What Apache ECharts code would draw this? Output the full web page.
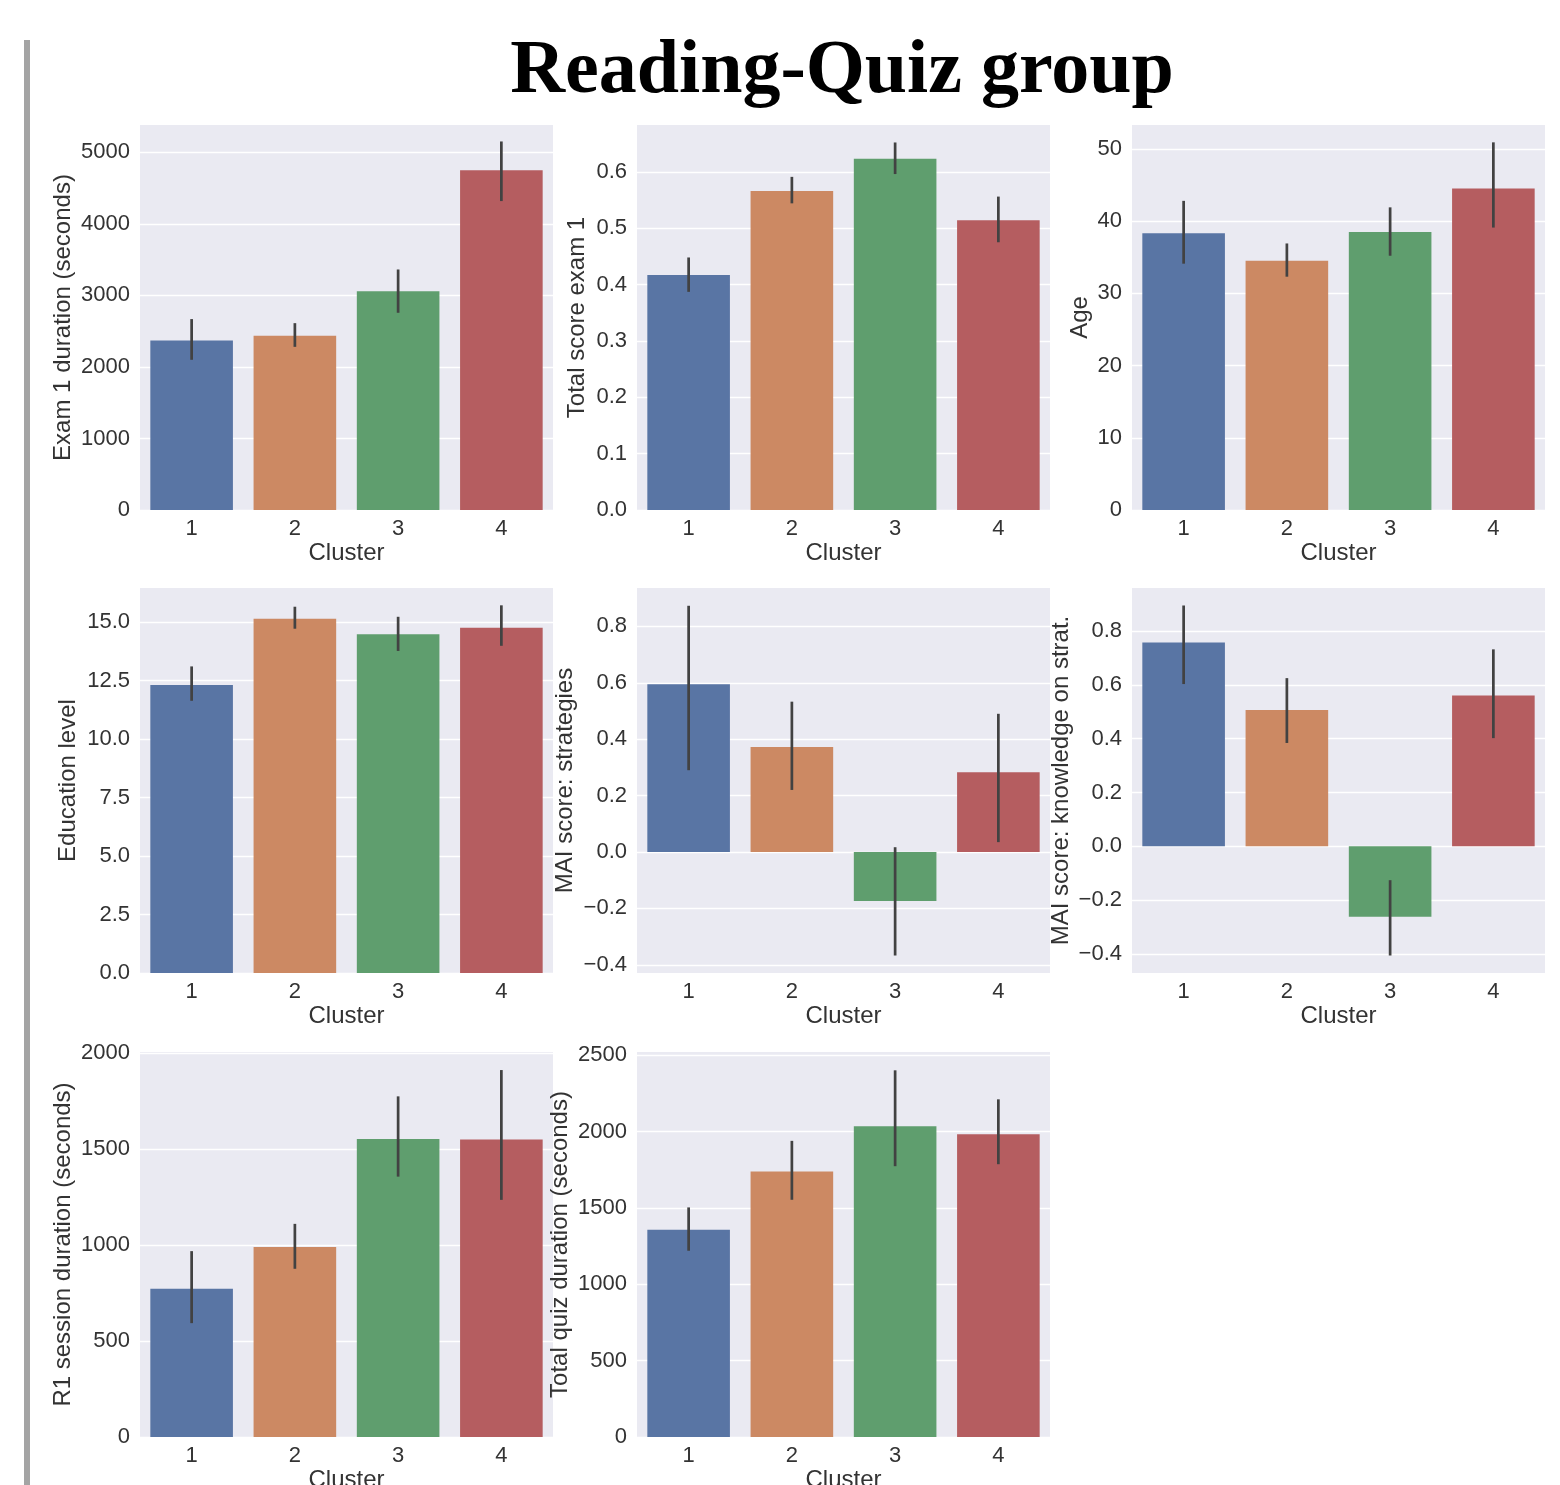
<!DOCTYPE html>
<html>
<head>
<meta charset="utf-8">
<title>Reading-Quiz group</title>
<script src="https://cdn.jsdelivr.net/npm/echarts@6/dist/echarts.min.js"></script>
<style>
  html, body { margin: 0; padding: 0; background: #ffffff; overflow: hidden; }
  #chart { width: 1560px; height: 1485px; }
</style>
</head>
<body>
<div id="chart"></div>
<script>
// Cluster categories and bar colours (one colour per cluster)
const clusters = ['1', '2', '3', '4'];
const clusterColors = ['#5975a4', '#cc8963', '#5f9e6e', '#b55d60'];

// Means and 95% CI bounds per cluster
const examDuration     = [2368, 2435, 3056, 4747];
const examDurationLow  = [2099, 2280, 2756, 4317];
const examDurationHigh = [2668, 2611, 3361, 5150];

const examScore     = [0.417, 0.566, 0.623, 0.514];
const examScoreLow  = [0.387, 0.544, 0.596, 0.475];
const examScoreHigh = [0.448, 0.591, 0.652, 0.556];

const age     = [38.3, 34.5, 38.5, 44.5];
const ageLow  = [34.1, 32.3, 35.2, 39.1];
const ageHigh = [42.8, 36.9, 41.9, 50.9];

const education     = [12.31, 15.14, 14.47, 14.75];
const educationLow  = [11.63, 14.71, 13.76, 13.98];
const educationHigh = [13.10, 15.65, 15.22, 15.71];

const maiStrategies     = [0.595, 0.372, -0.174, 0.283];
const maiStrategiesLow  = [0.290, 0.220, -0.367, 0.035];
const maiStrategiesHigh = [0.873, 0.533, 0.017, 0.490];

const maiKnowledge     = [0.757, 0.507, -0.262, 0.560];
const maiKnowledgeLow  = [0.603, 0.384, -0.406, 0.402];
const maiKnowledgeHigh = [0.895, 0.625, -0.126, 0.732];

const r1Duration     = [772, 989, 1552, 1549];
const r1DurationLow  = [593, 876, 1356, 1235];
const r1DurationHigh = [968, 1110, 1774, 1911];

const quizDuration     = [1358, 1739, 2036, 1983];
const quizDurationLow  = [1220, 1554, 1774, 1787];
const quizDurationHigh = [1504, 1940, 2402, 2212];

// Tick values for each y axis
const examDurationTicks = [0, 1000, 2000, 3000, 4000, 5000];
const examScoreTicks    = [0, 0.1, 0.2, 0.3, 0.4, 0.5, 0.6];
const ageTicks          = [0, 10, 20, 30, 40, 50];
const educationTicks    = [0, 2.5, 5, 7.5, 10, 12.5, 15];
const maiStratTicks     = [-0.4, -0.2, 0, 0.2, 0.4, 0.6, 0.8];
const maiKnowTicks      = [-0.4, -0.2, 0, 0.2, 0.4, 0.6, 0.8];
const r1Ticks           = [0, 500, 1000, 1500, 2000];
const quizTicks         = [0, 500, 1000, 1500, 2000, 2500];

const panels = [
  { name: 'Exam 1 duration (seconds)', mean: examDuration, low: examDurationLow, high: examDurationHigh, ticks: examDurationTicks, min: 0, max: 5380, dec: 0, row: 0, col: 0, gap: 65 },
  { name: 'Total score exam 1', mean: examScore, low: examScoreLow, high: examScoreHigh, ticks: examScoreTicks, min: 0, max: 0.683, dec: 1, row: 0, col: 1, gap: 48 },
  { name: 'Age', mean: age, low: ageLow, high: ageHigh, ticks: ageTicks, min: 0, max: 53.3, dec: 0, row: 0, col: 2, gap: 40 },
  { name: 'Education level', mean: education, low: educationLow, high: educationHigh, ticks: educationTicks, min: 0, max: 16.45, dec: 1, row: 1, col: 0, gap: 60 },
  { name: 'MAI score: strategies', mean: maiStrategies, low: maiStrategiesLow, high: maiStrategiesHigh, ticks: maiStratTicks, min: -0.429, max: 0.936, dec: 1, row: 1, col: 1, gap: 60 },
  { name: 'MAI score: knowledge on strat.', mean: maiKnowledge, low: maiKnowledgeLow, high: maiKnowledgeHigh, ticks: maiKnowTicks, min: -0.471, max: 0.96, dec: 1, row: 1, col: 2, gap: 59 },
  { name: 'R1 session duration (seconds)', mean: r1Duration, low: r1DurationLow, high: r1DurationHigh, ticks: r1Ticks, min: 0, max: 2005, dec: 0, row: 2, col: 0, gap: 65 },
  { name: 'Total quiz duration (seconds)', mean: quizDuration, low: quizDurationLow, high: quizDurationHigh, ticks: quizTicks, min: 0, max: 2522, dec: 0, row: 2, col: 1, gap: 65 }
];

const colLeft = [140, 637, 1132];
const rowTop = [125, 588, 1052];
const plotW = 413;
const plotH = 385;
const textColor = '#333333';
const sansFont = '"Liberation Sans", Arial, sans-serif';

function fmt(v, dec) {
  return v.toFixed(dec).replace('-', '\u2212');
}

const grids = [], xAxes = [], yAxes = [], series = [];

panels.forEach((p, i) => {
  grids.push({
    left: colLeft[p.col], top: rowTop[p.row], width: plotW, height: plotH,
    show: true, backgroundColor: '#eaeaf2', borderWidth: 0,
    containLabel: false, outerBoundsMode: 'none'
  });
  xAxes.push({
    gridIndex: i, type: 'category', data: clusters,
    axisLine: { show: false }, axisTick: { show: false },
    axisLabel: { fontSize: 22, color: textColor, fontFamily: sansFont, margin: 8 },
    name: 'Cluster', nameLocation: 'middle', nameGap: 31,
    nameTextStyle: { fontSize: 24, color: textColor, fontFamily: sansFont }
  });
  yAxes.push({
    gridIndex: i, type: 'value', min: p.min, max: p.max,
    axisLine: { show: false },
    axisTick: { show: false, customValues: p.ticks },
    axisLabel: {
      fontSize: 22, color: textColor, fontFamily: sansFont, margin: 10,
      customValues: p.ticks,
      formatter: v => fmt(v, p.dec)
    },
    splitLine: { show: true, lineStyle: { color: '#ffffff', width: 1.3 } },
    name: p.name, nameLocation: 'middle', nameGap: p.gap,
    nameTextStyle: { fontSize: 24, color: textColor, fontFamily: sansFont }
  });
  series.push({
    type: 'bar', xAxisIndex: i, yAxisIndex: i, barWidth: '80%',
    data: p.mean.map((v, k) => ({ value: v, itemStyle: { color: clusterColors[k] } })),
    silent: true, animation: false
  });
  series.push({
    type: 'custom', xAxisIndex: i, yAxisIndex: i, z: 5,
    data: p.low.map((lo, k) => [k, lo, p.high[k]]),
    encode: { x: 0, y: [1, 2] },
    renderItem: (params, api) => {
      const a = api.coord([api.value(0), api.value(1)]);
      const b = api.coord([api.value(0), api.value(2)]);
      return {
        type: 'line',
        shape: { x1: a[0], y1: a[1], x2: b[0], y2: b[1] },
        style: { stroke: '#424242', lineWidth: 2.7 }
      };
    },
    silent: true, animation: false
  });
});

const chart = echarts.init(document.getElementById('chart'), null, { renderer: 'canvas' });
chart.setOption({
  backgroundColor: '#ffffff',
  animation: false,
  grid: grids,
  xAxis: xAxes,
  yAxis: yAxes,
  series: series,
  graphic: [
    {
      type: 'rect', left: 24, top: 40, silent: true,
      shape: { width: 6, height: 1445 },
      style: { fill: '#a4a4a4' }
    },
    {
      type: 'text', x: 842, y: 34, silent: true,
      style: {
        text: 'Reading-Quiz group',
        font: 'bold 76px "Liberation Serif", "Times New Roman", serif',
        fill: '#000000',
        align: 'center', textAlign: 'center',
        verticalAlign: 'top', textVerticalAlign: 'top'
      }
    }
  ]
});
</script>
</body>
</html>
